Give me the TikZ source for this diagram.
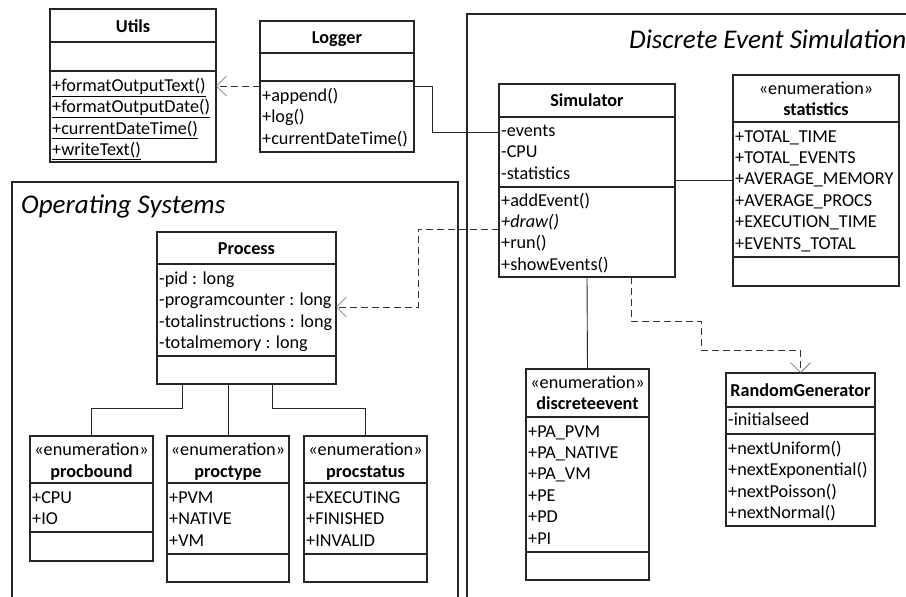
\documentclass[tikz,border=0pt]{standalone}
\usepackage{fontspec}
\setmainfont{Carlito}
\usetikzlibrary{arrows.meta}
\tikzset{
  box/.style={draw=black!85, line width=1.2pt, inner sep=0pt, outer sep=0pt, anchor=north west},
  div/.style={draw=black!85, line width=1.2pt},
  row/.style={anchor=base west, inner sep=0pt, font=\fontsize{18.2}{21}\selectfont},
  ttl/.style={anchor=base, inner sep=0pt, font=\fontsize{18.2}{21}\selectfont\bfseries},
  stereo/.style={anchor=base, inner sep=0pt, font=\fontsize{18.2}{21}\selectfont},
  conn/.style={draw=black!85, line width=0.9pt},
  dep/.style={draw=black!80, line width=1pt, dash pattern=on 7pt off 4pt,
    -{Straight Barb[length=10pt,width=20pt,line width=0.6pt,color=black!60]}},
  pkg/.style={draw=black!85, line width=1.2pt},
  pkgtitle/.style={font=\fontsize{27}{30}\selectfont\itshape, inner sep=0pt, anchor=base west}
}
\newcommand\umlrows[4]{%
  \foreach \t [count=\i] in {#4}
    \node[row] (#1-\i) at (#2, {#3+(\i-1)*21.4}) {\t};}
\newcommand\umldiv[2]{\draw[div] (#1.west |- 0,#2) -- (#1.east |- 0,#2);}
\begin{document}
\begin{tikzpicture}[x=1pt, y=-1pt]
\clip (0,0) rectangle (906,597);
\fill[white] (0,0) rectangle (906,597);

% packages
\draw[pkg] (12,182) rectangle (458,640);
\node[pkgtitle] (ostitle) at (21,213) {Operating Systems};
\draw[pkg] (467,14) rectangle (940,640);
\node[pkgtitle] (destitle) at (629,48) {Discrete Event Simulation};

% Utils
\node[box, minimum width=166pt, minimum height=153pt] (utils) at (50,9) {};
\umldiv{utils}{42}\umldiv{utils}{71}
\node[ttl] (utils-t) at (133,32) {Utils};
\umlrows{utils}{52}{91.5}{\underline{+formatOutputText()},\underline{+formatOutputDate()},\underline{+currentDateTime()},\underline{+writeText()}}

% Logger
\node[box, minimum width=154pt, minimum height=131pt] (logger) at (260,21) {};
\umldiv{logger}{53}\umldiv{logger}{81}
\node[ttl] (logger-t) at (337,43.5) {Logger};
\umlrows{logger}{262}{101.5}{+append(),+log(),+currentDateTime()}

% Simulator
\node[box, minimum width=176pt, minimum height=193pt] (sim) at (499,84) {};
\umldiv{sim}{117}\umldiv{sim}{187}
\node[ttl] (sim-t) at (587,106.5) {Simulator};
\umlrows{sima}{501}{136.5}{-events,-CPU,-statistics}
\umlrows{simm}{501}{206}{+addEvent(),\textit{+draw()},+run(),+showEvents()}

% statistics
\node[box, minimum width=166pt, minimum height=211pt] (stats) at (733,75) {};
\umldiv{stats}{122}\umldiv{stats}{257}
\node[stereo] (stats-s) at (816,94.5) {«enumeration»};
\node[ttl] (stats-t) at (816,115.5) {statistics};
\umlrows{stats}{735}{142}{+TOTAL\_TIME,+TOTAL\_EVENTS,+AVERAGE\_MEMORY,+AVERAGE\_PROCS,+EXECUTION\_TIME,+EVENTS\_TOTAL}

% Process
\node[box, minimum width=179pt, minimum height=152pt] (proc) at (157,232) {};
\umldiv{proc}{264}\umldiv{proc}{356}
\node[ttl] (proc-t) at (246.5,254.5) {Process};
\umlrows{proc}{159}{284.5}{-pid : long,-programcounter : long,-totalinstructions : long,-totalmemory : long}

% procbound
\node[box, minimum width=123pt, minimum height=125pt] (pbound) at (30,436) {};
\umldiv{pbound}{483}\umldiv{pbound}{532}
\node[stereo] (pbound-s) at (91.5,455.5) {«enumeration»};
\node[ttl] (pbound-t) at (91.5,477.5) {procbound};
\umlrows{pbound}{32}{503.5}{+CPU,+IO}

% proctype
\node[box, minimum width=122pt, minimum height=146pt] (ptype) at (167,436) {};
\umldiv{ptype}{483}\umldiv{ptype}{554}
\node[stereo] (ptype-s) at (228,455.5) {«enumeration»};
\node[ttl] (ptype-t) at (228,477.5) {proctype};
\umlrows{ptype}{169}{503.5}{+PVM,+NATIVE,+VM}

% procstatus
\node[box, minimum width=123pt, minimum height=146pt] (pstat) at (304,436) {};
\umldiv{pstat}{483}\umldiv{pstat}{554}
\node[stereo] (pstat-s) at (365.5,455.5) {«enumeration»};
\node[ttl] (pstat-t) at (365.5,477.5) {procstatus};
\umlrows{pstat}{306}{503.5}{+EXECUTING,+FINISHED,+INVALID}

% discreteevent
\node[box, minimum width=123pt, minimum height=211pt] (devent) at (526,369) {};
\umldiv{devent}{417}\umldiv{devent}{552}
\node[stereo] (devent-s) at (587.5,388.5) {«enumeration»};
\node[ttl] (devent-t) at (587.5,409.5) {discreteevent};
\umlrows{devent}{528}{437}{+PA\_PVM,+PA\_NATIVE,+PA\_VM,+PE,+PD,+PI}

% RandomGenerator
\node[box, minimum width=149pt, minimum height=153pt] (rgen) at (726,373) {};
\umldiv{rgen}{407}\umldiv{rgen}{434}
\node[ttl] (rgen-t) at (800.5,396.5) {RandomGenerator};
\umlrows{rgena}{728}{425.5}{-initialseed}
\umlrows{rgenm}{728}{454.5}{+nextUniform(),+nextExponential(),+nextPoisson(),+nextNormal()}

% connectors
\draw[dep] (logger.west |- 0,86) -- (utils.east |- 0,86);
\draw[conn] (logger.east |- 0,86) -- (432,86) -- (432,132) -- (sim.west |- 0,132);
\draw[conn] (sim.east |- 0,180) -- (stats.west |- 0,180);
\draw[dep] (sim.west |- 0,229) -- (418,229) -- (418,307) -- (proc.east |- 0,307);
\draw[conn] (sim.south) -- (devent.north);
\draw[dep] (sim.south -| 631,0) -- (631,321) -- (701,321) -- (701,350) -- (rgen.north |- 0,350) -- (rgen.north);
\draw[conn] (proc.south -| 182,0) -- (182,408) -- (pbound.north |- 0,408) -- (pbound.north);
\draw[conn] (proc.south -| 228,0) -- (ptype.north);
\draw[conn] (proc.south -| 272,0) -- (272,408) -- (pstat.north |- 0,408) -- (pstat.north);
\end{tikzpicture}
\end{document}
